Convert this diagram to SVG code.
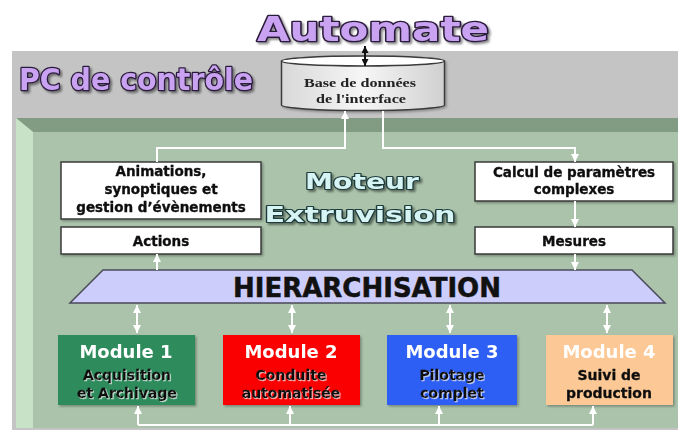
<svg xmlns="http://www.w3.org/2000/svg" width="678" height="430" viewBox="0 0 678 430">
<defs>
<style>
.bx{fill:#fff;stroke:#3a3a3a;stroke-width:1.5}
.bt{font-family:"DejaVu Sans",sans-serif;font-weight:bold;font-size:13.5px;fill:#111;stroke:#111;stroke-width:0.35;text-anchor:middle}
.mt{font-family:"DejaVu Sans",sans-serif;font-weight:bold;font-size:18px;fill:#fff;text-anchor:middle}
.ms{font-family:"DejaVu Sans",sans-serif;font-weight:bold;font-size:14px;fill:#111;stroke:#111;stroke-width:0.3;text-anchor:middle}
.big{font-family:"DejaVu Sans",sans-serif;font-weight:bold;fill:#c9a2f2;stroke:#2a1a3a;stroke-width:2.6;paint-order:stroke;stroke-linejoin:round}
.mot{font-family:"DejaVu Sans",sans-serif;font-weight:bold;font-size:22px;fill:#d6f4f4;stroke:#1f3b3b;stroke-width:2.2;paint-order:stroke;stroke-linejoin:round;text-anchor:middle}
.w{fill:none;stroke:#fff;stroke-width:2}
</style>
<marker id="aw" viewBox="0 0 10 10" refX="10" refY="5" markerWidth="8" markerHeight="8" markerUnits="userSpaceOnUse" orient="auto-start-reverse"><path d="M0,0 L10,5 L0,10 z" fill="#fff"/></marker>
<marker id="ab" viewBox="0 0 10 10" refX="10" refY="5" markerWidth="7" markerHeight="7" markerUnits="userSpaceOnUse" orient="auto-start-reverse"><path d="M0,0 L10,5 L0,10 z" fill="#111"/></marker>
<filter id="sh" x="-10%" y="-20%" width="130%" height="150%"><feDropShadow dx="2" dy="2" stdDeviation="1.2" flood-color="#000" flood-opacity="0.45"/></filter>
<filter id="bs" x="-5%" y="-10%" width="115%" height="130%"><feDropShadow dx="1.5" dy="1.5" stdDeviation="1" flood-color="#000" flood-opacity="0.3"/></filter>
<filter id="glow" x="-10%" y="-20%" width="130%" height="150%"><feDropShadow dx="1" dy="1" stdDeviation="0.6" flood-color="#fff" flood-opacity="0.7"/></filter>
<linearGradient id="cyl" x1="0" y1="0" x2="1" y2="0"><stop offset="0" stop-color="#d8d8d8"/><stop offset="0.5" stop-color="#f6f6f6"/><stop offset="1" stop-color="#d0d0d0"/></linearGradient>
</defs>

<g id="background">
<rect x="12" y="51" width="666" height="379" fill="#c4c4c4"/>
<rect x="16" y="118" width="662" height="310" fill="#aac3aa"/>
<polygon points="16,118 678,118 678,132 33,132" fill="#819c83"/>
<polygon points="16,118 33,132 33,428 16,428" fill="#c8e2c8"/>
</g>

<g id="automate"><text class="big" x="373" y="41" font-size="34" text-anchor="middle" textLength="232" lengthAdjust="spacingAndGlyphs" filter="url(#sh)">Automate</text></g>
<g id="pc"><text class="big" x="19" y="90" font-size="30" textLength="234" lengthAdjust="spacingAndGlyphs" filter="url(#sh)">PC de contrôle</text></g>

<g id="database" filter="url(#bs)">
<path d="M281.5,61 V105 A81.5,5.5 0 0 0 444.5,105 V61" fill="url(#cyl)" stroke="#3a3a3a" stroke-width="1.5"/>
<ellipse cx="363" cy="61" rx="81.5" ry="5" fill="#fff" stroke="#3a3a3a" stroke-width="1.5"/>
<text x="360" y="87" font-family="'Liberation Serif',serif" font-weight="bold" font-size="13" fill="#222" text-anchor="middle" textLength="112" lengthAdjust="spacingAndGlyphs">Base de données</text>
<text x="361" y="103" font-family="'Liberation Serif',serif" font-weight="bold" font-size="13" fill="#222" text-anchor="middle" textLength="90" lengthAdjust="spacingAndGlyphs">de l'interface</text>
</g>

<g id="moteur">
<text class="mot" x="362" y="189" textLength="114" lengthAdjust="spacingAndGlyphs" filter="url(#sh)">Moteur</text>
<text class="mot" x="360" y="222" textLength="191" lengthAdjust="spacingAndGlyphs" filter="url(#sh)">Extruvision</text>
</g>

<g id="animations" filter="url(#bs)">
<rect class="bx" x="61" y="162" width="200" height="57"/>
<text class="bt" x="161" y="176">Animations,</text>
<text class="bt" x="161" y="194">synoptiques et</text>
<text class="bt" x="161" y="212">gestion d’évènements</text>
</g>
<g id="actions" filter="url(#bs)">
<rect class="bx" x="61" y="227" width="200" height="27"/>
<text class="bt" x="161" y="246">Actions</text>
</g>
<g id="calcul" filter="url(#bs)">
<rect class="bx" x="475" y="162" width="198" height="39"/>
<text class="bt" x="574" y="177">Calcul de paramètres</text>
<text class="bt" x="574" y="194">complexes</text>
</g>
<g id="mesures" filter="url(#bs)">
<rect class="bx" x="475" y="227" width="198" height="27"/>
<text class="bt" x="574" y="246">Mesures</text>
</g>

<g id="hierarchisation">
<polygon points="103,270 632,270 665,303 70,303" fill="#cdcdfb" stroke="#4a4a5a" stroke-width="1.5"/>
<text x="367" y="297" font-family="'DejaVu Sans',sans-serif" font-weight="bold" font-size="26" fill="#111" stroke="#111" stroke-width="0.5" text-anchor="middle" textLength="268" lengthAdjust="spacingAndGlyphs">HIERARCHISATION</text>
</g>

<g id="module1" filter="url(#bs)">
<rect x="58" y="335" width="137" height="70" fill="#2e8c5c"/>
<text class="mt" x="126" y="358">Module 1</text>
<text class="ms" x="127" y="380" filter="url(#glow)">Acquisition</text>
<text class="ms" x="127" y="398" filter="url(#glow)">et Archivage</text>
</g>
<g id="module2" filter="url(#bs)">
<rect x="223" y="335" width="137" height="70" fill="#fb0000"/>
<text class="mt" x="291" y="358">Module 2</text>
<text class="ms" x="291" y="380" filter="url(#glow)">Conduite</text>
<text class="ms" x="291" y="398" filter="url(#glow)">automatisée</text>
</g>
<g id="module3" filter="url(#bs)">
<rect x="387" y="335" width="130" height="70" fill="#2f5ff5"/>
<text class="mt" x="452" y="358">Module 3</text>
<text class="ms" x="452" y="380" filter="url(#glow)">Pilotage</text>
<text class="ms" x="452" y="398" filter="url(#glow)">complet</text>
</g>
<g id="module4" filter="url(#bs)">
<rect x="546" y="335" width="127" height="70" fill="#fcc996"/>
<text class="mt" x="609" y="358">Module 4</text>
<text class="ms" x="609" y="380">Suivi de</text>
<text class="ms" x="609" y="398">production</text>
</g>

<g id="connectors">
<path d="M365,46 V66" fill="none" stroke="#111" stroke-width="2" marker-start="url(#ab)" marker-end="url(#ab)"/>
<path class="w" d="M157,162 V148 H345 V111" marker-end="url(#aw)"/>
<path class="w" d="M383,111 V148 H575 V162" marker-end="url(#aw)"/>
<path class="w" d="M575,201 V227" marker-end="url(#aw)"/>
<path class="w" d="M575,254 V270" marker-end="url(#aw)"/>
<path class="w" d="M157,270 V254" marker-end="url(#aw)"/>
<path class="w" d="M137,305 V333" marker-start="url(#aw)" marker-end="url(#aw)"/>
<path class="w" d="M292,305 V333" marker-start="url(#aw)" marker-end="url(#aw)"/>
<path class="w" d="M450,305 V333" marker-start="url(#aw)" marker-end="url(#aw)"/>
<path class="w" d="M607,305 V333" marker-start="url(#aw)" marker-end="url(#aw)"/>
<path class="w" d="M138,425 H593"/>
<path class="w" d="M138,425 V406" marker-end="url(#aw)"/>
<path class="w" d="M290,425 V406" marker-end="url(#aw)"/>
<path class="w" d="M439,425 V406" marker-end="url(#aw)"/>
<path class="w" d="M593,425 V406" marker-end="url(#aw)"/>
</g>
</svg>
